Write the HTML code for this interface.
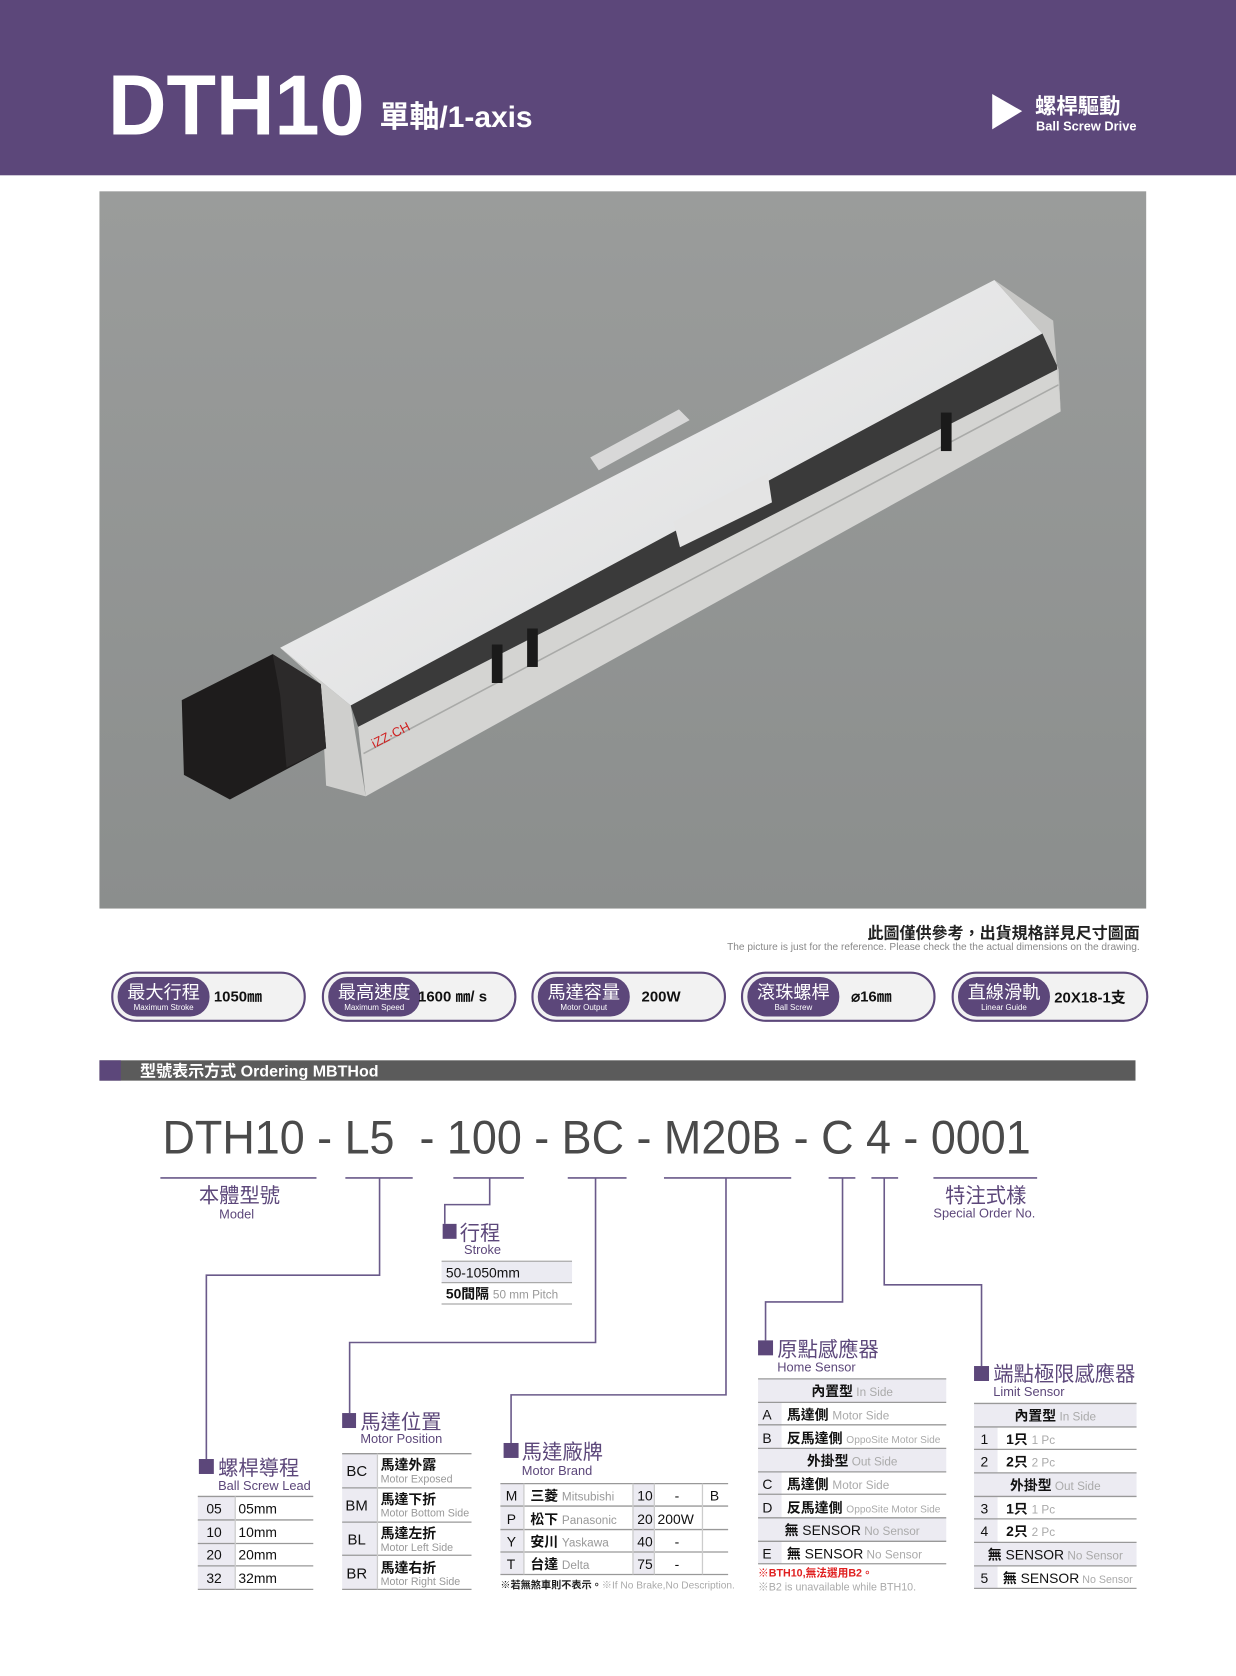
<!DOCTYPE html>
<html><head><meta charset="utf-8"><style>
html,body{margin:0;padding:0;background:#fff;}
svg{display:block;}
text{font-family:"Liberation Sans","Noto Sans CJK TC",sans-serif;}
</style></head><body>
<svg width="1236" height="1676" viewBox="0 0 1156 1568" preserveAspectRatio="none" xmlns="http://www.w3.org/2000/svg">
<defs>
<linearGradient id="bg" x1="0" y1="0" x2="0" y2="1"><stop offset="0" stop-color="#9a9c9b"/><stop offset="1" stop-color="#8b8e8d"/></linearGradient>
<linearGradient id="top" x1="0" y1="0" x2="1" y2="1"><stop offset="0" stop-color="#f2f2f2"/><stop offset="1" stop-color="#d9dadb"/></linearGradient>
</defs>
<rect x="0" y="0" width="1156" height="164" fill="#5c477a"/>
<text x="101" y="126" font-size="80" font-weight="bold" fill="#fff" textLength="240" lengthAdjust="spacingAndGlyphs">DTH10</text>
<text x="355" y="119" font-size="28" font-weight="bold" fill="#fff">單軸/1-axis</text>
<polygon points="928,88 928,121 956,104" fill="#fff"/>
<text x="968" y="106" font-size="20" font-weight="bold" fill="#fff">螺桿驅動</text>
<text x="969" y="122" font-size="12" font-weight="bold" fill="#fff">Ball Screw Drive</text>
<rect x="93" y="179" width="979" height="671" fill="url(#bg)"/>
<polygon points="552,428 635,383 645,393 560,440" fill="#d8d8d8"/>
<polygon points="262,606 930,262 975,312 328,660" fill="url(#top)"/>
<polygon points="328,660 975,312 990,345 335,680" fill="#3a3a3a"/>
<polygon points="335,680 990,345 992,385 342,745" fill="#d4d4d2"/>
<line x1="340" y1="705" x2="990" y2="360" stroke="#a9aaa8" stroke-width="1.5"/>
<polygon points="930,262 975,312 990,345 992,385 985,300" fill="#c8c8c6"/>
<polygon points="262,606 328,660 342,745 305,735 300,640" fill="#cfcfcd"/>
<polygon points="630,488 718,443 722,470 636,512" fill="#e4e4e4"/>
<polygon points="170,655 255,612 300,640 305,700 215,748 172,725" fill="#1e1c1c"/>
<polygon points="255,612 300,640 305,700 268,718 262,650" fill="#2c2a2a"/>
<rect x="460" y="603" width="10" height="36" fill="#1a1a1a"/>
<rect x="493" y="588" width="10" height="36" fill="#1a1a1a"/>
<rect x="880" y="386" width="10" height="36" fill="#1a1a1a"/>
<text x="350" y="700" font-size="12" fill="#d02020" transform="rotate(-27 350 700)">iZZ·CH</text>
<text x="1066" y="878" font-size="15" font-weight="bold" fill="#222" text-anchor="end">此圖僅供參考，出貨規格詳見尺寸圖面</text>
<text x="1066" y="889" font-size="9.5" fill="#888" text-anchor="end">The picture is just for the reference. Please check the the actual dimensions on the drawing.</text>
<g>
<rect x="105" y="910" width="180" height="45" rx="22" fill="#f2f2f2" stroke="#5c477a" stroke-width="2"/>
<rect x="110" y="914" width="86" height="37" rx="18" fill="#5c477a"/>
<text x="153" y="934" font-size="17" fill="#fff" text-anchor="middle">最大行程</text>
<text x="153" y="945" font-size="7.5" fill="#fff" text-anchor="middle">Maximum Stroke</text>
<text x="200" y="937" font-size="14" font-weight="bold" fill="#111">1050㎜</text>
</g>
<g>
<rect x="302" y="910" width="180" height="45" rx="22" fill="#f2f2f2" stroke="#5c477a" stroke-width="2"/>
<rect x="307" y="914" width="86" height="37" rx="18" fill="#5c477a"/>
<text x="350" y="934" font-size="17" fill="#fff" text-anchor="middle">最高速度</text>
<text x="350" y="945" font-size="7.5" fill="#fff" text-anchor="middle">Maximum Speed</text>
<text x="391" y="937" font-size="14" font-weight="bold" fill="#111">1600  ㎜/ s</text>
</g>
<g>
<rect x="498" y="910" width="180" height="45" rx="22" fill="#f2f2f2" stroke="#5c477a" stroke-width="2"/>
<rect x="503" y="914" width="86" height="37" rx="18" fill="#5c477a"/>
<text x="546" y="934" font-size="17" fill="#fff" text-anchor="middle">馬達容量</text>
<text x="546" y="945" font-size="7.5" fill="#fff" text-anchor="middle">Motor Output</text>
<text x="600" y="937" font-size="14" font-weight="bold" fill="#111">200W</text>
</g>
<g>
<rect x="694" y="910" width="180" height="45" rx="22" fill="#f2f2f2" stroke="#5c477a" stroke-width="2"/>
<rect x="699" y="914" width="86" height="37" rx="18" fill="#5c477a"/>
<text x="742" y="934" font-size="17" fill="#fff" text-anchor="middle">滾珠螺桿</text>
<text x="742" y="945" font-size="7.5" fill="#fff" text-anchor="middle">Ball Screw</text>
<text x="796" y="937" font-size="14" font-weight="bold" fill="#111">⌀16㎜</text>
</g>
<g>
<rect x="891" y="910" width="182" height="45" rx="22" fill="#f2f2f2" stroke="#5c477a" stroke-width="2"/>
<rect x="896" y="914" width="86" height="37" rx="18" fill="#5c477a"/>
<text x="939" y="934" font-size="17" fill="#fff" text-anchor="middle">直線滑軌</text>
<text x="939" y="945" font-size="7.5" fill="#fff" text-anchor="middle">Linear Guide</text>
<text x="986" y="938" font-size="14" font-weight="bold" fill="#111">20X18-1支</text>
</g>
<rect x="93" y="992" width="969" height="19" fill="#5b5b5b"/>
<rect x="93" y="992" width="20" height="19" fill="#5c477a"/>
<text x="131" y="1007" font-size="15" font-weight="bold" fill="#fff">型號表示方式  Ordering MBTHod</text>
<text x="152" y="1079" font-size="44" fill="#4a4a4a" textLength="812" lengthAdjust="spacingAndGlyphs" xml:space="preserve">DTH10 - L5  - 100 - BC - M20B - C 4 - 0001</text>
<g stroke="#6a5a8a" stroke-width="1.5" fill="none">
<line x1="150" y1="1102" x2="296" y2="1102"/><line x1="323" y1="1102" x2="386" y2="1102"/>
<line x1="424" y1="1102" x2="490" y2="1102"/><line x1="531" y1="1102" x2="586" y2="1102"/>
<line x1="621" y1="1102" x2="740" y2="1102"/><line x1="775" y1="1102" x2="800" y2="1102"/>
<line x1="815" y1="1102" x2="840" y2="1102"/><line x1="873" y1="1102" x2="970" y2="1102"/>
<polyline points="355,1102 355,1193 193,1193 193,1365"/>
<polyline points="458,1102 458,1127 416,1127 416,1145"/>
<polyline points="557,1102 557,1256 327,1256 327,1322"/>
<polyline points="679,1102 679,1305 478,1305 478,1350"/>
<polyline points="788,1102 788,1218 716,1218 716,1254"/>
<polyline points="827,1102 827,1202 918,1202 918,1278"/>
</g>
<text x="186" y="1125" font-size="19" fill="#5c477a">本體型號</text>
<text x="205" y="1140" font-size="12" fill="#5c477a">Model</text>
<text x="884" y="1125" font-size="19" fill="#5c477a">特注式樣</text>
<text x="873" y="1139" font-size="12" fill="#5c477a">Special Order No.</text>
<rect x="414" y="1145" width="13" height="14" fill="#5c477a"/>
<text x="430" y="1160" font-size="19" fill="#5c477a">行程</text>
<text x="434" y="1173" font-size="12" fill="#5c477a">Stroke</text>
<rect x="413" y="1180" width="122" height="20" fill="#ebebf2"/>
<g stroke="#aaa" stroke-width="1.2"><line x1="413" y1="1180" x2="535" y2="1180"/><line x1="413" y1="1200" x2="535" y2="1200"/><line x1="413" y1="1220" x2="535" y2="1220"/></g>
<text x="417" y="1195" font-size="13" fill="#111">50-1050mm</text>
<text x="417" y="1215" font-size="13" font-weight="bold" fill="#111">50間隔 <tspan font-size="11" font-weight="normal" fill="#999">50 mm Pitch</tspan></text>
<rect x="186" y="1365" width="14" height="14" fill="#5c477a"/>
<text x="204" y="1380" font-size="19" fill="#5c477a">螺桿導程</text>
<text x="204" y="1394" font-size="12" fill="#5c477a">Ball Screw Lead</text>
<rect x="185" y="1400" width="35" height="87" fill="#ecebf2"/>
<g stroke="#999" stroke-width="1.2"><line x1="185" y1="1400" x2="293" y2="1400"/><line x1="185" y1="1422" x2="293" y2="1422"/><line x1="185" y1="1444" x2="293" y2="1444"/><line x1="185" y1="1465" x2="293" y2="1465"/><line x1="185" y1="1487" x2="293" y2="1487"/><line x1="220" y1="1400" x2="220" y2="1487" stroke="#ccc"/></g>
<g font-size="13" fill="#111"><text x="193" y="1416">05</text><text x="223" y="1416">05mm</text><text x="193" y="1438">10</text><text x="223" y="1438">10mm</text><text x="193" y="1459">20</text><text x="223" y="1459">20mm</text><text x="193" y="1481">32</text><text x="223" y="1481">32mm</text></g>
<rect x="320" y="1322" width="13" height="14" fill="#5c477a"/>
<text x="337" y="1337" font-size="19" fill="#5c477a">馬達位置</text>
<text x="337" y="1350" font-size="12" fill="#5c477a">Motor Position</text>
<rect x="320" y="1360" width="33" height="127" fill="#ecebf2"/>
<g stroke="#999" stroke-width="1.2"><line x1="320" y1="1360" x2="441" y2="1360"/><line x1="320" y1="1392" x2="441" y2="1392"/><line x1="320" y1="1424" x2="441" y2="1424"/><line x1="320" y1="1455" x2="441" y2="1455"/><line x1="320" y1="1487" x2="441" y2="1487"/><line x1="353" y1="1360" x2="353" y2="1487" stroke="#ccc"/></g>
<g font-size="14" fill="#111"><text x="324" y="1381">BC</text><text x="323" y="1413">BM</text><text x="325" y="1445">BL</text><text x="324" y="1477">BR</text></g>
<g font-size="13" font-weight="bold" fill="#111"><text x="356" y="1375">馬達外露</text><text x="356" y="1407">馬達下折</text><text x="356" y="1439">馬達左折</text><text x="356" y="1471">馬達右折</text></g>
<g font-size="10" fill="#999"><text x="356" y="1387">Motor Exposed</text><text x="356" y="1419">Motor Bottom Side</text><text x="356" y="1451">Motor Left Side</text><text x="356" y="1483">Motor Right Side</text></g>
<rect x="471" y="1350" width="14" height="14" fill="#5c477a"/>
<text x="488" y="1365" font-size="19" fill="#5c477a">馬達廠牌</text>
<text x="488" y="1380" font-size="12" fill="#5c477a">Motor Brand</text>
<rect x="468" y="1388" width="22" height="85" fill="#ecebf2"/>
<rect x="592" y="1388" width="20" height="85" fill="#ecebf2"/>
<g stroke="#999" stroke-width="1.2"><line x1="468" y1="1388" x2="681" y2="1388"/><line x1="468" y1="1409" x2="681" y2="1409"/><line x1="468" y1="1431" x2="681" y2="1431"/><line x1="468" y1="1452" x2="681" y2="1452"/><line x1="468" y1="1473" x2="681" y2="1473"/><g stroke="#ccc"><line x1="490" y1="1388" x2="490" y2="1473"/><line x1="592" y1="1388" x2="592" y2="1473"/><line x1="612" y1="1388" x2="612" y2="1473"/><line x1="657" y1="1388" x2="657" y2="1473"/></g></g>
<g font-size="13" fill="#111"><text x="473" y="1404">M</text><text x="474" y="1426">P</text><text x="474" y="1447">Y</text><text x="474" y="1468">T</text>
<text x="596" y="1404">10</text><text x="596" y="1426">20</text><text x="596" y="1447">40</text><text x="596" y="1468">75</text>
<text x="631" y="1404">-</text><text x="615" y="1426">200W</text><text x="631" y="1447">-</text><text x="631" y="1468">-</text><text x="664" y="1404">B</text></g>
<g font-size="13" font-weight="bold" fill="#111"><text x="496" y="1404">三菱 <tspan font-weight="normal" font-size="11" fill="#999">Mitsubishi</tspan></text><text x="496" y="1426">松下 <tspan font-weight="normal" font-size="11" fill="#999">Panasonic</tspan></text><text x="496" y="1447">安川 <tspan font-weight="normal" font-size="11" fill="#999">Yaskawa</tspan></text><text x="496" y="1468">台達 <tspan font-weight="normal" font-size="11" fill="#999">Delta</tspan></text></g>
<text x="468" y="1486" font-size="9.5" fill="#222" font-weight="bold">※若無煞車則不表示。<tspan font-weight="normal" fill="#aaa">※If No Brake,No Description.</tspan></text>
<rect x="709" y="1254" width="14" height="14" fill="#5c477a"/>
<text x="727" y="1269" font-size="19" fill="#5c477a">原點感應器</text>
<text x="727" y="1283" font-size="12" fill="#5c477a">Home Sensor</text>
<g fill="#ecebf2"><rect x="709" y="1290" width="176" height="22"/><rect x="709" y="1355" width="176" height="22"/><rect x="709" y="1420" width="176" height="22"/><rect x="709" y="1312" width="22" height="43"/><rect x="709" y="1377" width="22" height="43"/><rect x="709" y="1442" width="22" height="21"/></g>
<g stroke="#999" stroke-width="1.2"><line x1="709" y1="1290" x2="885" y2="1290"/><line x1="709" y1="1312" x2="885" y2="1312"/><line x1="709" y1="1333" x2="885" y2="1333"/><line x1="709" y1="1355" x2="885" y2="1355"/><line x1="709" y1="1377" x2="885" y2="1377"/><line x1="709" y1="1398" x2="885" y2="1398"/><line x1="709" y1="1420" x2="885" y2="1420"/><line x1="709" y1="1442" x2="885" y2="1442"/><line x1="709" y1="1463" x2="885" y2="1463"/></g>
<g font-size="13" fill="#111"><text x="713" y="1328">A</text><text x="713" y="1350">B</text><text x="713" y="1393">C</text><text x="713" y="1415">D</text><text x="713" y="1458">E</text></g>
<g font-size="13" font-weight="bold" fill="#111">
<text x="797" y="1306" text-anchor="middle">內置型<tspan font-weight="normal" font-size="11" fill="#aaa"> In Side</tspan></text>
<text x="736" y="1328">馬達側 <tspan font-weight="normal" font-size="11" fill="#aaa">Motor Side</tspan></text>
<text x="736" y="1350">反馬達側 <tspan font-weight="normal" font-size="9.5" fill="#aaa">OppoSite Motor Side</tspan></text>
<text x="797" y="1371" text-anchor="middle">外掛型<tspan font-weight="normal" font-size="11" fill="#aaa"> Out Side</tspan></text>
<text x="736" y="1393">馬達側 <tspan font-weight="normal" font-size="11" fill="#aaa">Motor Side</tspan></text>
<text x="736" y="1415">反馬達側 <tspan font-weight="normal" font-size="9.5" fill="#aaa">OppoSite Motor Side</tspan></text>
<text x="797" y="1436" text-anchor="middle">無 <tspan font-weight="normal">SENSOR</tspan><tspan font-weight="normal" font-size="11" fill="#aaa"> No Sensor</tspan></text>
<text x="736" y="1458">無 <tspan font-weight="normal">SENSOR</tspan><tspan font-weight="normal" font-size="11" fill="#aaa">  No Sensor</tspan></text>
</g>
<text x="709" y="1475" font-size="10" font-weight="bold" fill="#e02020">※BTH10,無法選用B2。</text>
<text x="709" y="1488" font-size="10" fill="#aaa">※B2 is unavailable while BTH10.</text>
<rect x="911" y="1278" width="14" height="14" fill="#5c477a"/>
<text x="929" y="1292" font-size="19" fill="#5c477a">端點極限感應器</text>
<text x="929" y="1306" font-size="12" fill="#5c477a">Limit Sensor</text>
<g fill="#ecebf2"><rect x="911" y="1313" width="152" height="22"/><rect x="911" y="1378" width="152" height="22"/><rect x="911" y="1443" width="152" height="22"/><rect x="911" y="1335" width="22" height="43"/><rect x="911" y="1400" width="22" height="43"/><rect x="911" y="1465" width="22" height="21"/></g>
<g stroke="#999" stroke-width="1.2"><line x1="911" y1="1313" x2="1063" y2="1313"/><line x1="911" y1="1335" x2="1063" y2="1335"/><line x1="911" y1="1356" x2="1063" y2="1356"/><line x1="911" y1="1378" x2="1063" y2="1378"/><line x1="911" y1="1400" x2="1063" y2="1400"/><line x1="911" y1="1421" x2="1063" y2="1421"/><line x1="911" y1="1443" x2="1063" y2="1443"/><line x1="911" y1="1465" x2="1063" y2="1465"/><line x1="911" y1="1486" x2="1063" y2="1486"/></g>
<g font-size="13" fill="#111"><text x="917" y="1351">1</text><text x="917" y="1372">2</text><text x="917" y="1416">3</text><text x="917" y="1437">4</text><text x="917" y="1481">5</text></g>
<g font-size="13" font-weight="bold" fill="#111">
<text x="987" y="1329" text-anchor="middle">內置型<tspan font-weight="normal" font-size="11" fill="#aaa"> In Side</tspan></text>
<text x="941" y="1351">1只 <tspan font-weight="normal" font-size="11" fill="#aaa"> 1 Pc</tspan></text>
<text x="941" y="1372">2只 <tspan font-weight="normal" font-size="11" fill="#aaa"> 2 Pc</tspan></text>
<text x="987" y="1394" text-anchor="middle">外掛型<tspan font-weight="normal" font-size="11" fill="#aaa"> Out Side</tspan></text>
<text x="941" y="1416">1只 <tspan font-weight="normal" font-size="11" fill="#aaa"> 1 Pc</tspan></text>
<text x="941" y="1437">2只 <tspan font-weight="normal" font-size="11" fill="#aaa"> 2 Pc</tspan></text>
<text x="987" y="1459" text-anchor="middle">無 <tspan font-weight="normal">SENSOR</tspan><tspan font-weight="normal" font-size="11" fill="#aaa"> No Sensor</tspan></text>
<text x="938" y="1481">無 <tspan font-weight="normal">SENSOR</tspan><tspan font-weight="normal" font-size="10" fill="#aaa"> No Sensor</tspan></text>
</g>
</svg>
</body></html>
